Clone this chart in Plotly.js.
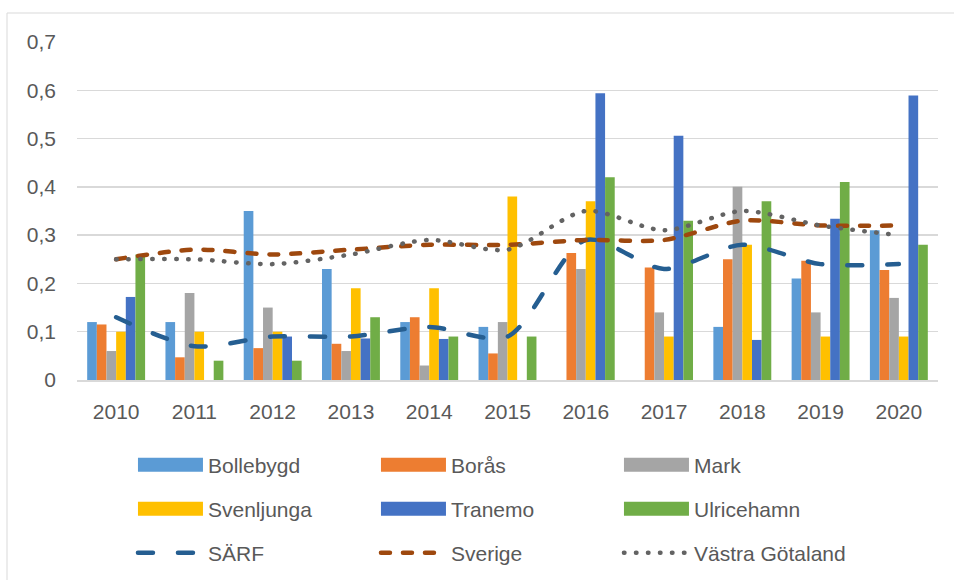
<!DOCTYPE html>
<html>
<head>
<meta charset="utf-8">
<script src="https://cdn.plot.ly/plotly-3.0.1.min.js"></script>
<style>
  html, body { margin: 0; padding: 0; background: #fff; }
  #chart { width: 954px; height: 580px; }
  path.js-line { stroke-linecap: round !important; }
</style>
</head>
<body>
<div id="chart"></div>
<script>
const years = ['2010','2011','2012','2013','2014','2015','2016','2017','2018','2019','2020'];

const bollebygd  = [0.12, 0.12, 0.35, 0.23, 0.12, 0.11, null, null, 0.11, 0.21, 0.31];
const boras      = [0.115, 0.047, 0.066, 0.075, 0.13, 0.055, 0.263, 0.233, 0.25, 0.247, 0.228];
const mark       = [0.06, 0.18, 0.15, 0.06, 0.03, 0.12, 0.23, 0.14, 0.40, 0.14, 0.17];
const svenljunga = [0.10, 0.10, 0.10, 0.19, 0.19, 0.38, 0.37, 0.09, 0.28, 0.09, 0.09];
const tranemo    = [0.172, null, 0.09, 0.086, 0.085, null, 0.594, 0.506, 0.083, 0.334, 0.589];
const ulricehamn = [0.26, 0.04, 0.04, 0.13, 0.09, 0.09, 0.42, 0.33, 0.37, 0.41, 0.28];

const sarf       = [0.13, 0.07, 0.09, 0.09, 0.11, 0.09, 0.29, 0.23, 0.28, 0.24, 0.24];
const sverige    = [0.25, 0.27, 0.26, 0.27, 0.28, 0.28, 0.29, 0.29, 0.33, 0.32, 0.32];
const vastra     = [0.25, 0.25, 0.24, 0.26, 0.29, 0.27, 0.35, 0.31, 0.35, 0.32, 0.30];

const barNames  = ['Bollebygd','Borås','Mark','Svenljunga','Tranemo','Ulricehamn'];
const barData   = [bollebygd, boras, mark, svenljunga, tranemo, ulricehamn];
const barColors = ['#5b9bd5','#ed7d31','#a5a5a5','#ffc000','#4472c4','#70ad47'];
const barLegend = ['legend','legend','legend','legend2','legend2','legend2'];

const lineNames  = ['SÄRF','Sverige','Västra Götaland'];
const lineData   = [sarf, sverige, vastra];
const lineColors = ['#255e91','#9e480e','#636363'];
const lineDash   = ['15px,25px','9px,13px','0.5px,11.5px'];

const FONT = 'Liberation Sans, Arial, sans-serif';
const TXT = '#595959';

const traces = [];
barNames.forEach((n, i) => {
  traces.push({
    type: 'bar', name: n, x: years, y: barData[i],
    marker: { color: barColors[i], line: { width: 0 } },
    legend: barLegend[i], hoverinfo: 'x+y+name'
  });
});
lineNames.forEach((n, i) => {
  traces.push({
    type: 'scatter', mode: 'lines', name: n, x: years, y: lineData[i],
    line: { color: lineColors[i], width: 4.5, dash: lineDash[i], shape: 'spline', smoothing: 0.8 },
    legend: 'legend3'
  });
});

const legendBase = {
  orientation: 'h', xanchor: 'left', yanchor: 'middle', x: 0.065,
  font: { family: FONT, size: 21, color: TXT },
  itemwidth: 65, entrywidth: 163, bgcolor: 'rgba(0,0,0,0)', borderwidth: 0,
  traceorder: 'normal', itemclick: false, itemdoubleclick: false
};

const layout = {
  width: 954, height: 580,
  margin: { l: 77, r: 16, t: 42, b: 200, autoexpand: false },
  paper_bgcolor: '#fff', plot_bgcolor: '#fff',
  separators: ', ',
  font: { family: FONT, size: 21, color: TXT },
  barmode: 'group', bargap: 0.26, bargroupgap: 0,
  xaxis: {
    type: 'category', tickfont: { family: FONT, size: 21, color: TXT },
    showgrid: false, showline: true, linecolor: '#d9d9d9', linewidth: 1.5,
    ticks: '', ticklabelstandoff: 12, zeroline: false, automargin: false
  },
  yaxis: {
    range: [0, 0.7], dtick: 0.1, tick0: 0,
    tickfont: { family: FONT, size: 21, color: TXT },
    showgrid: true, gridcolor: '#d9d9d9', gridwidth: 1.3,
    zeroline: false, showline: false, ticks: '', ticklabelstandoff: 20, automargin: false
  },
  showlegend: true,
  legend:  Object.assign({}, legendBase, { y: -0.2515 }),
  legend2: Object.assign({}, legendBase, { y: -0.3817 }),
  legend3: Object.assign({}, legendBase, { y: -0.5118 }),
  shapes: [{
    type: 'rect', xref: 'paper', yref: 'paper',
    x0: (7 - 77) / 861, x1: (960 - 77) / 861,
    y0: (380 - 590) / 338, y1: (380 - 13) / 338,
    line: { color: '#d9d9d9', width: 1 }, fillcolor: 'rgba(0,0,0,0)', layer: 'below'
  }]
};

function restyleKeys(gd) {
  gd.querySelectorAll('path.js-line').forEach(p => {
    p.style.setProperty('stroke-linecap', 'round', 'important');
  });
  // widen the bar legend swatches to match the long rectangular keys
  gd.querySelectorAll('.legendpoints path').forEach(p => {
    if (p.classList.contains('js-line')) return;
    const d = (p.getAttribute('d') || '').replace(/\s/g, '');
    if (d.indexOf('M6,6H-6V-6H6Z') === 0) {
      p.setAttribute('d', 'M-32.5,7H32.5V-7H-32.5Z');
    }
  });
}

const gdEl = document.getElementById('chart');
Plotly.newPlot(gdEl, traces, layout, { displayModeBar: false, staticPlot: true }).then(gd => {
  restyleKeys(gd);
  requestAnimationFrame(() => restyleKeys(gd));
  setTimeout(() => restyleKeys(gd), 50);
});
</script>
</body>
</html>
